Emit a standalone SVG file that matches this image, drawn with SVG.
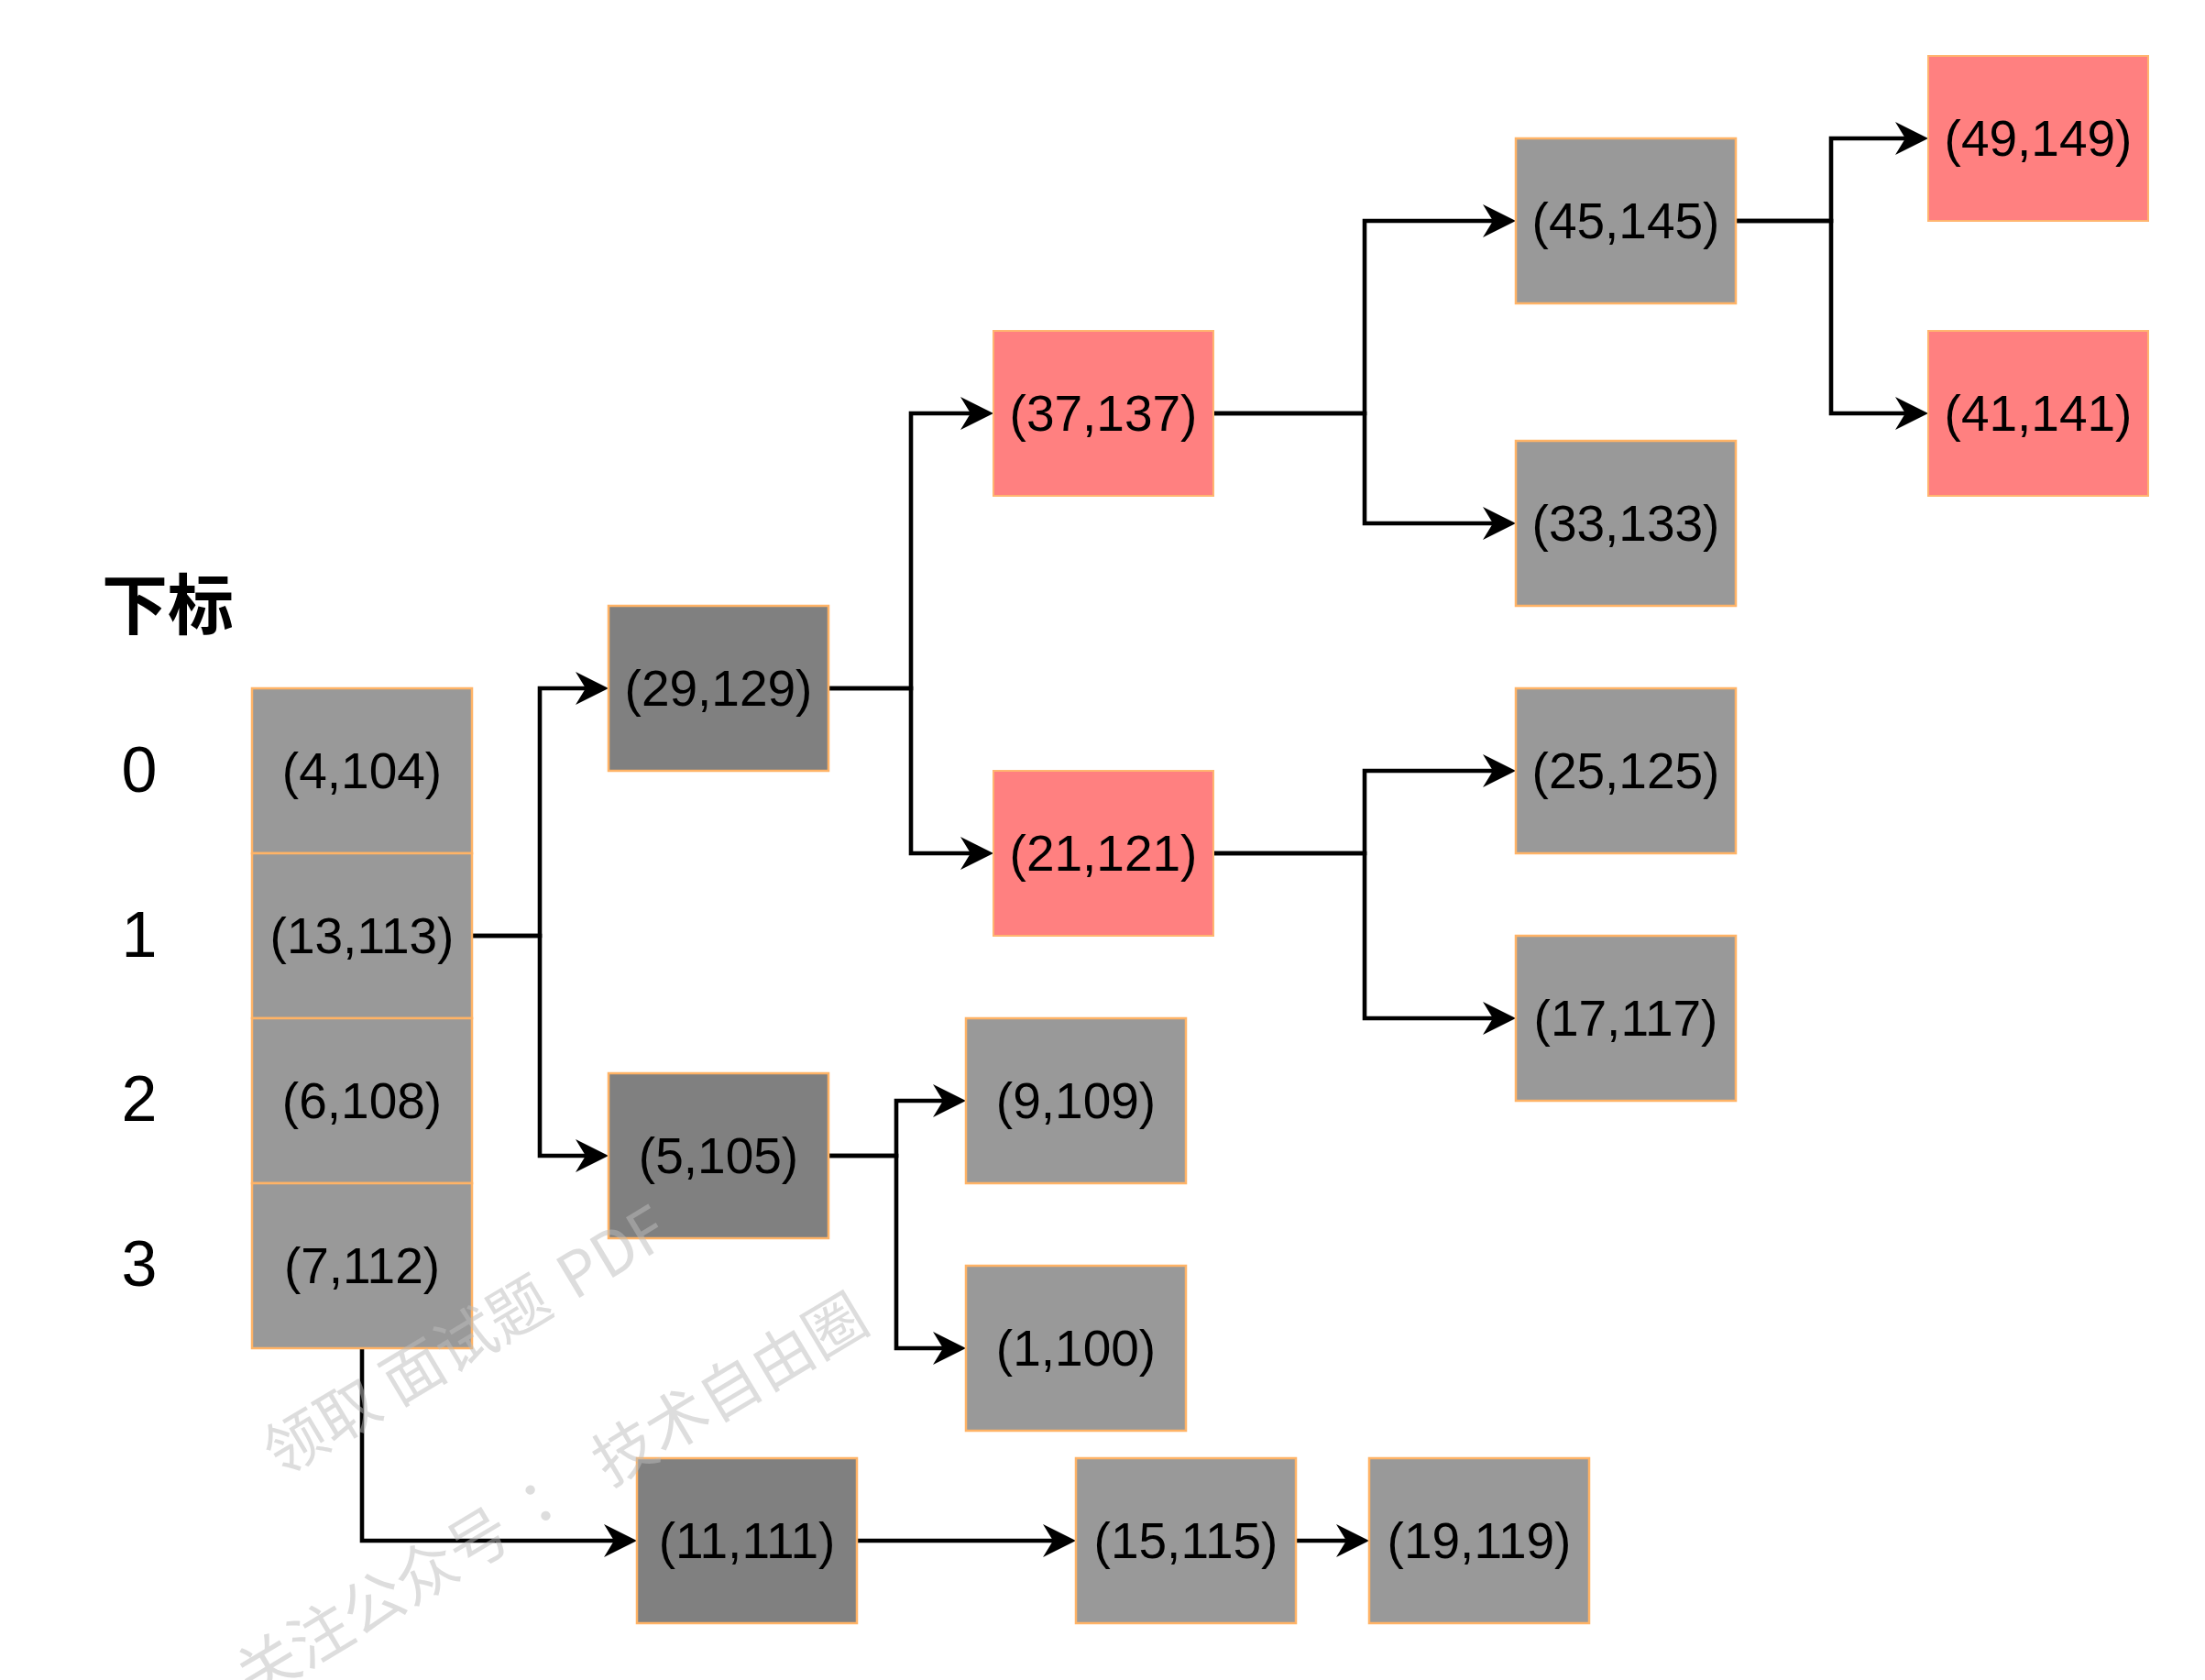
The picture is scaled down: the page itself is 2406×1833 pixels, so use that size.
<svg xmlns="http://www.w3.org/2000/svg" width="2406" height="1833" viewBox="0 0 2406 1833">
  <defs>
    <marker id="arr" markerWidth="40" markerHeight="40" refX="16" refY="20" orient="auto" markerUnits="userSpaceOnUse" viewBox="0 0 40 40">
      <path d="M36,20 L0,2 L11,20 L0,38 Z" fill="#000"/>
    </marker>
  </defs>
  <style>
    .g { fill: #999999; stroke: #FFB366; stroke-width: 2.5; }
    .d { fill: #808080; stroke: #FFB366; stroke-width: 2.5; }
    .r { fill: #FF8080; stroke: #FFB570; stroke-width: 2; }
    .t { font-family: "Liberation Sans", Arial, sans-serif; font-size: 55px; fill: #000; text-anchor: middle; }
    .idx { font-family: "Liberation Sans", Arial, sans-serif; font-size: 70px; fill: #000; text-anchor: middle; }
    .c { fill: none; stroke: #000; stroke-width: 4.6; marker-end: url(#arr); }
    .wm { font-family: "Noto Sans CJK SC", "Liberation Sans", sans-serif; font-size: 67px; fill: #bdbdbd; opacity: 0.5; }
  </style>
  <rect width="2406" height="1833" fill="#ffffff"/>

  <text x="111" y="686" font-family="'Noto Sans CJK SC', sans-serif" font-size="72" font-weight="bold" fill="#000">下标</text>
  <g id="indices">
    <text class="idx" x="152" y="864">0</text>
    <text class="idx" x="152" y="1044">1</text>
    <text class="idx" x="152" y="1223">2</text>
    <text class="idx" x="152" y="1403">3</text>
  </g>

  <g id="connectors">
    <path class="c" d="M515,1021 H589 V751 H644"/>
    <path class="c" d="M515,1021 H589 V1261 H644"/>
    <path class="c" d="M904,751 H994 V451 H1064"/>
    <path class="c" d="M904,751 H994 V931 H1064"/>
    <path class="c" d="M1324,451 H1489 V241 H1634"/>
    <path class="c" d="M1324,451 H1489 V571 H1634"/>
    <path class="c" d="M1324,931 H1489 V841 H1634"/>
    <path class="c" d="M1324,931 H1489 V1111 H1634"/>
    <path class="c" d="M1894,241 H1998 V151 H2084"/>
    <path class="c" d="M1894,241 H1998 V451 H2084"/>
    <path class="c" d="M904,1261 H978 V1201 H1034"/>
    <path class="c" d="M904,1261 H978 V1471 H1034"/>
    <path class="c" d="M395,1471 V1681 H675"/>
    <path class="c" d="M935,1681 H1154"/>
    <path class="c" d="M1414,1681 H1474"/>
  </g>

  <g id="n-4-104"><rect class="g" x="275" y="751" width="240" height="180"/><text class="t" x="395" y="860">(4,104)</text></g>
  <g id="n-13-113"><rect class="g" x="275" y="931" width="240" height="180"/><text class="t" x="395" y="1040">(13,113)</text></g>
  <g id="n-6-108"><rect class="g" x="275" y="1111" width="240" height="180"/><text class="t" x="395" y="1220">(6,108)</text></g>
  <g id="n-7-112"><rect class="g" x="275" y="1291" width="240" height="180"/><text class="t" x="395" y="1400">(7,112)</text></g>

  <g id="n-29-129"><rect class="d" x="664" y="661" width="240" height="180"/><text class="t" x="784" y="770">(29,129)</text></g>
  <g id="n-5-105"><rect class="d" x="664" y="1171" width="240" height="180"/><text class="t" x="784" y="1280">(5,105)</text></g>
  <g id="n-11-111"><rect class="d" x="695" y="1591" width="240" height="180"/><text class="t" x="815" y="1700">(11,111)</text></g>

  <g id="n-37-137"><rect class="r" x="1084" y="361" width="240" height="180"/><text class="t" x="1204" y="470">(37,137)</text></g>
  <g id="n-21-121"><rect class="r" x="1084" y="841" width="240" height="180"/><text class="t" x="1204" y="950">(21,121)</text></g>
  <g id="n-9-109"><rect class="g" x="1054" y="1111" width="240" height="180"/><text class="t" x="1174" y="1220">(9,109)</text></g>
  <g id="n-1-100"><rect class="g" x="1054" y="1381" width="240" height="180"/><text class="t" x="1174" y="1490">(1,100)</text></g>

  <g id="n-45-145"><rect class="g" x="1654" y="151" width="240" height="180"/><text class="t" x="1774" y="260">(45,145)</text></g>
  <g id="n-33-133"><rect class="g" x="1654" y="481" width="240" height="180"/><text class="t" x="1774" y="590">(33,133)</text></g>
  <g id="n-25-125"><rect class="g" x="1654" y="751" width="240" height="180"/><text class="t" x="1774" y="860">(25,125)</text></g>
  <g id="n-17-117"><rect class="g" x="1654" y="1021" width="240" height="180"/><text class="t" x="1774" y="1130">(17,117)</text></g>

  <g id="n-49-149"><rect class="r" x="2104" y="61" width="240" height="180"/><text class="t" x="2224" y="170">(49,149)</text></g>
  <g id="n-41-141"><rect class="r" x="2104" y="361" width="240" height="180"/><text class="t" x="2224" y="470">(41,141)</text></g>

  <g id="n-15-115"><rect class="g" x="1174" y="1591" width="240" height="180"/><text class="t" x="1294" y="1700">(15,115)</text></g>
  <g id="n-19-119"><rect class="g" x="1494" y="1591" width="240" height="180"/><text class="t" x="1614" y="1700">(19,119)</text></g>

  <g id="watermark">
    <text class="wm" transform="translate(306,1612) rotate(-31)"><tspan x="0">领取</tspan><tspan x="150">面试题</tspan><tspan x="374">PDF</tspan></text>
    <text class="wm" transform="translate(276,1856) rotate(-31)"><tspan x="0">关注公众号</tspan><tspan x="378" text-anchor="middle" font-family="'Noto Sans CJK TC', sans-serif">：</tspan><tspan x="454">技术自由圈</tspan></text>
  </g>
</svg>
